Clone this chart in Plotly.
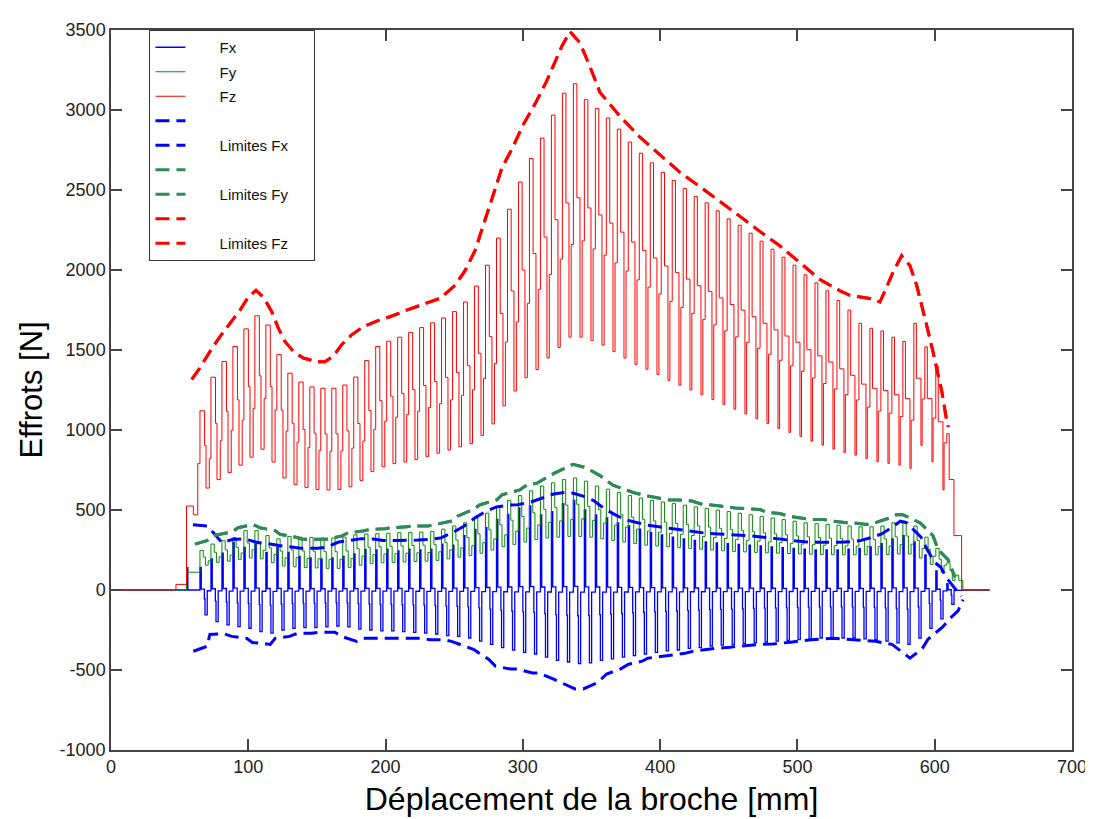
import plotly.graph_objects as go

# ---------------- data ----------------
# start (mm) of each tooth cycle
cycle_start = [64.8, 72.8, 80.8, 88.8, 96.8, 104.8, 112.8, 120.8, 128.8, 136.8,
               144.8, 152.8, 160.8, 168.8, 176.8, 184.8, 192.8, 200.8, 208.8, 216.8,
               224.8, 232.8, 240.8, 248.8, 256.8, 264.8, 272.8, 280.8, 288.8, 296.8,
               304.8, 312.8, 320.8, 328.8, 336.8, 344.8, 352.8, 360.8, 368.8, 376.8,
               384.8, 392.8, 400.8, 408.8, 416.8, 424.8, 432.8, 440.8, 448.8, 456.8,
               464.8, 472.8, 480.8, 488.8, 496.8, 504.8, 512.8, 520.8, 528.8, 536.8,
               544.8, 552.8, 560.8, 568.8, 576.8, 584.8, 592.8, 600.8, 608.8]

fz_peak = [1120, 1330, 1428, 1522, 1632, 1714, 1656, 1471, 1355, 1300, 1269, 1261, 1261, 1281, 1331, 1434, 1522, 1555, 1580,
           1610, 1640, 1670, 1700, 1740, 1800, 1900, 2030, 2200, 2380, 2550,
           2697, 2824, 2968, 3105, 3164, 3065,
           3010, 2950, 2880, 2800, 2730, 2670, 2610, 2560, 2510, 2460, 2420, 2370, 2320, 2280, 2230, 2180, 2130,
           2080, 2030, 1970, 1920, 1870, 1810, 1750, 1667, 1636, 1619, 1580, 1553, 1667, 1520, 1399, 977]
fz_trough = [637, 690, 735, 780, 830, 880, 800, 700, 660, 640, 628, 625, 628, 645, 685, 740, 770, 790, 800,
             815, 835, 855, 875, 895, 915, 966, 1038, 1151, 1244, 1327,
             1378, 1450, 1516, 1580, 1580, 1560,
             1530, 1490, 1450, 1410, 1380, 1347, 1310, 1280, 1250, 1220, 1190, 1160, 1130, 1100, 1070, 1040, 1010,
             985, 960, 930, 905, 880, 860, 843, 822, 801, 791, 781, 760, 904, 801, 626, 340]

fx_peak = [142, 194, 231, 297, 266, 287, 235, 266, 235, 210, 200, 195, 200, 210, 225, 253, 250, 255, 245,
           255, 250, 255, 287, 280, 340, 379, 390, 441, 472, 513,
           525, 470, 490, 540, 560, 500,
           470, 450, 420, 400, 380, 360, 345, 330, 320, 310, 300, 295, 290, 285, 280, 275, 270,
           265, 260, 255, 250, 250, 250, 255, 260, 270, 290, 320, 340, 300, 220, 120, 40]
fx_trough = [-156, -198, -218, -229, -239, -260, -270, -250, -240, -235, -235, -230, -225, -230, -245, -250, -255, -255, -260,
             -265, -270, -275, -285, -290, -300, -320, -340, -360, -375, -390,
             -400, -420, -440, -450, -460, -455,
             -440, -430, -420, -410, -400, -390, -380, -375, -365, -360, -350, -345, -340, -335, -330, -325, -320,
             -315, -310, -305, -300, -300, -300, -300, -305, -310, -320, -330, -340, -300, -240, -180, -90]

fy_peak = [247, 287, 308, 328, 371, 371, 340, 320, 335, 330, 328, 325, 325, 330, 345, 350, 352, 355, 358,
           360, 362, 365, 380, 400, 420, 450, 480, 520, 560, 590,
           620, 650, 670, 690, 700, 680,
           650, 630, 610, 590, 575, 560, 550, 540, 530, 520, 510, 500, 490, 480, 470, 460, 450,
           440, 430, 420, 415, 410, 405, 400, 395, 395, 400, 420, 430, 400, 330, 260, 170]
fy_trough = [155, 173, 180, 190, 200, 195, 170, 150, 145, 140, 138, 135, 135, 140, 155, 165, 170, 172, 175,
             178, 180, 185, 195, 205, 215, 230, 250, 270, 285, 300,
             315, 325, 330, 335, 335, 330,
             320, 310, 300, 290, 280, 275, 270, 265, 260, 255, 250, 245, 240, 238, 235, 232, 230,
             228, 226, 224, 222, 220, 220, 220, 220, 220, 222, 225, 225, 200, 160, 110, 60]

# entry / exit of the cut (step values)
fz_lead_x = [0, 47.3, 55.0, 60.0, 63.2]
fz_lead_y = [0, 35, 525, 470, 790]
fz_tail_x = [619.6, 640]
fz_tail_y = [0, 0]
fx_lead_x = [0, 55.3, 56.0]
fx_lead_y = [0, 140, 0]
fx_tail_x = [621.0, 640]
fx_tail_y = [0, 0]
fy_lead_x = [0, 55.1]
fy_lead_y = [0, 111]
fy_tail_x = [617.5, 620.5, 640]
fy_tail_y = [60, 0, 0]

# limit curves
limfz_x = [58.8, 64.8, 72.1, 79.4, 86.7, 94.0, 100.0, 105.6, 110.9, 117.1, 121.9, 126.7, 132.8, 140.1, 149.8,
           155.9, 161.9, 168.0, 175.3, 183.8, 193.5, 203.2, 215.4, 225.1, 239.6, 250.6, 257.9, 265.1, 272.4,
           279.7, 284.6, 292.8, 300.1, 308.8, 316.8, 320.5, 328.5, 334.3, 341.6, 348.9, 356.2, 370.8, 385.3,
           399.9, 414.5, 429.1, 443.7, 458.2, 472.8, 487.3, 501.9, 516.4, 531.0, 538.3, 552.8, 560.1, 565.0,
           569.6, 575.9, 582.0, 586.9, 590.5, 594.1, 598.7, 602.4, 605.1, 608.7, 609.9]
limfz_y = [1316, 1388, 1491, 1584, 1667, 1749, 1831, 1873, 1831, 1739, 1636, 1553, 1491, 1450, 1426,
           1426, 1461, 1533, 1595, 1646, 1681, 1708, 1749, 1780, 1823, 1904, 1996, 2120, 2305,
           2503, 2635, 2769, 2905, 3037, 3171, 3245, 3400, 3490, 3420, 3270, 3110, 2960, 2830,
           2720, 2610, 2520, 2430, 2335, 2240, 2150, 2045, 1940, 1870, 1842, 1822, 1800, 1893,
           1986, 2089, 2027, 1903, 1770, 1656, 1491, 1347, 1244, 1059, 1020]

limfx_up_x = [59.7, 70.0, 74.6, 80.8, 88.4, 97.0, 106.5, 114.5, 122.4, 130.9, 138.2, 150.3, 156.6, 165.8, 173.8,
              182.5, 190.8, 198.4, 208.1, 216.0, 223.6, 232.0, 240.0, 248.7, 257.3, 265.1, 272.7, 280.7, 289.5,
              296.1, 305.9, 314.2, 322.4, 330.8, 336.8, 344.4, 351.3, 359.1, 367.3, 375.0, 383.0, 391.1, 399.1,
              407.5, 415.0, 423.4, 431.5, 439.0, 447.4, 455.1, 463.4, 475.0, 485.7, 496.0, 505.4, 513.8, 522.6,
              530.2, 538.3, 546.5, 553.8, 561.4, 569.3, 575.0, 579.7, 585.0, 590.0, 594.5, 599.9, 604.5, 608.2,
              611.1, 615.5, 619.3]
limfx_up_y = [408, 400, 358, 297, 315, 320, 297, 290, 278, 270, 261, 261, 266, 300, 312,
              321, 318, 309, 309, 309, 312, 317, 325, 358, 400, 451, 490, 519, 530,
              533, 550, 575, 600, 610, 605, 585, 560, 510, 470, 439, 420, 404, 395,
              385, 375, 363, 357, 352, 348, 344, 340, 330, 320, 308, 301, 299, 297,
              299, 301, 310, 328, 350, 395, 430, 420, 377, 330, 253, 173, 142, 80,
              49, 0, -40]
limfx_lo_x = [60, 70, 72, 81.6, 88, 99, 103, 116, 119.5, 130, 136, 146, 152, 163, 168, 179, 183.6, 194.5, 199.6,
              210.5, 216, 226.5, 232, 243, 248, 259, 264, 275, 280, 291, 296, 307, 312, 322, 328, 338, 344, 354,
              361, 371, 377, 387, 391, 402, 409, 418, 424, 434, 440, 451, 456, 473, 482, 495, 510, 526, 542, 557,
              568.9, 579.9, 582, 591, 595, 606, 611, 617, 620.6]
limfx_lo_y = [-383, -352, -278, -272, -290, -303, -328, -340, -303, -290, -270, -270, -264, -264, -290, -321, -301,
              -301, -297, -297, -301, -301, -311, -311, -321, -352, -371, -433, -476, -494, -494, -519, -519, -556,
              -581, -618, -618, -581, -525, -494, -464, -445, -426, -414, -402, -396, -383, -371, -365, -358, -352,
              -340, -338, -326, -311, -301, -309, -321, -340, -414, -426, -365, -309, -229, -179, -130, -60]

limfy_x = [61.2, 69.9, 75.8, 88.1, 92.5, 103.4, 108.5, 119.5, 123.1, 130.4, 135.5, 139.1, 152.2, 157.3, 168.3,
           172.6, 183.6, 188.7, 199.6, 204.7, 215.6, 221.4, 230.9, 237.5, 248.4, 252.7, 263.7, 268.8, 281.2,
           284.8, 297.9, 301.6, 310.3, 323.0, 336.5, 346.0, 356.2, 365.6, 375.8, 381.7, 391.1, 397.7, 407.2,
           413.0, 423.2, 429.1, 438.5, 445.1, 454.5, 465.4, 472.7, 477.8, 487.3, 493.1, 503.3, 509.1, 518.6,
           525.2, 536.1, 540.4, 550.6, 557.9, 567.4, 572.5, 576.9, 582.0, 589.3, 598.7, 602.4, 609.7, 614.8]
limfy_y = [287, 308, 342, 363, 389, 410, 389, 371, 348, 338, 328, 317, 317, 317, 338,
           358, 369, 379, 383, 389, 396, 400, 400, 410, 431, 463, 503, 533, 564,
           595, 626, 649, 668, 730, 785, 765, 715, 655, 625, 606, 587, 575, 562,
           562, 556, 539, 527, 523, 513, 508, 503, 486, 478, 462, 451, 441, 441,
           431, 420, 420, 410, 424, 451, 472, 470, 451, 420, 340, 253, 190, 80]

x_ticks = [0, 100, 200, 300, 400, 500, 600, 700]
y_ticks = [-1000, -500, 0, 500, 1000, 1500, 2000, 2500, 3000, 3500]
legend_names = ['Fx', 'Fy', 'Fz', '', 'Limites Fx', '', 'Limites Fy', '', 'Limites Fz']


# ---------------- waveform construction (step signal per tooth) ----------------
def cycle_width(k):
    if k < len(cycle_start) - 1:
        return cycle_start[k + 1] - cycle_start[k]
    return cycle_start[k] - cycle_start[k - 1]


def build_fz():
    xs, ys = list(fz_lead_x), list(fz_lead_y)
    n = len(cycle_start)
    for k in range(n):
        x0, w = cycle_start[k], cycle_width(k)
        P, T = fz_peak[k], fz_trough[k]
        s = k / (n - 1)
        a = 0.42 + (0.22 - 0.42) * s
        b = 0.55 + (0.65 - 0.55) * s
        c = 0.85 + (0.75 - 0.85) * s
        xs += [x0, x0 + a * w, x0 + b * w]
        ys += [P, T + 0.55 * (P - T), T]
        if k < n - 1:
            xs.append(x0 + c * w)
            ys.append(T + 0.38 * (P - T))
    xs += fz_tail_x
    ys += fz_tail_y
    return xs, ys


def build_fy():
    xs, ys = list(fy_lead_x), list(fy_lead_y)
    for k in range(len(cycle_start)):
        x0, w = cycle_start[k], cycle_width(k)
        P, T = fy_peak[k], fy_trough[k]
        xs += [x0, x0 + 0.30 * w, x0 + 0.50 * w, x0 + 0.75 * w]
        ys += [P, T + 0.55 * (P - T), T, T + 0.30 * (P - T)]
    xs += fy_tail_x
    ys += fy_tail_y
    return xs, ys


def build_fx():
    xs, ys = list(fx_lead_x), list(fx_lead_y)
    for k in range(len(cycle_start)):
        x0, w = cycle_start[k], cycle_width(k)
        P, T = fx_peak[k], fx_trough[k]
        xs += [x0, x0 + 0.12 * w, x0 + 0.40 * w, x0 + 0.46 * w, x0 + 0.66 * w]
        ys += [P, 0.04 * P, 0.35 * T, T, 0.03 * T]
    xs += fx_tail_x
    ys += fx_tail_y
    return xs, ys


fx_x, fx_y = build_fx()
fy_x, fy_y = build_fy()
fz_x, fz_y = build_fz()

BLUE = '#0000ff'
GREEN = '#0a8a0a'
RED = '#ff0000'
LGREEN = '#2e8b57'
DASH = '14px,7px'
PAD = '\u00a0' * 7   # shifts legend text right like the original legend layout


def lname(i):
    return PAD + legend_names[i] + '\u00a0' * 5


series = [
    (fx_x, fx_y, BLUE, 1.3, 'solid', 'hv'),
    (fy_x, fy_y, GREEN, 1, 'solid', 'hv'),
    (fz_x, fz_y, RED, 1, 'solid', 'hv'),
    (limfx_up_x, limfx_up_y, BLUE, 3, DASH, 'linear'),
    (limfx_lo_x, limfx_lo_y, BLUE, 3, DASH, 'linear'),
    (limfy_x, limfy_y, LGREEN, 3, DASH, 'linear'),
    (limfy_x, limfy_y, LGREEN, 3, DASH, 'linear'),
    (limfz_x, limfz_y, RED, 3, DASH, 'linear'),
    (limfz_x, limfz_y, RED, 3, DASH, 'linear'),
]

fig = go.Figure()
for i, (sx, sy, col, lw, dash, shape) in enumerate(series):
    fig.add_trace(go.Scatter(x=sx, y=sy, mode='lines',
                             line=dict(color=col, width=lw, dash=dash, shape=shape),
                             name=lname(i), legendgroup=f'g{i}'))

axis_common = dict(showline=True, linecolor='#444444', linewidth=1.5, mirror='ticks',
                   ticks='inside', ticklen=11, tickwidth=1.5, tickcolor='#444444',
                   showgrid=False, zeroline=False,
                   tickfont=dict(size=18, color='#222222', family='Liberation Sans, Arial, sans-serif'))

fig.update_layout(
    width=1093, height=819,
    margin=dict(l=103, r=29, t=14, b=77),
    paper_bgcolor='white', plot_bgcolor='white',
    font=dict(family='Liberation Sans, Arial, sans-serif', color='#111111'),
    showlegend=True,
    legend=dict(x=0.04, y=1.0, xanchor='left', yanchor='top', bgcolor='white',
                bordercolor='#333333', borderwidth=1, font=dict(size=15, color='#111111'),
                tracegroupgap=2, traceorder='grouped'),
    xaxis=dict(range=[0, 700], tickvals=x_ticks, ticktext=[str(v) for v in x_ticks],
               title=dict(text='Déplacement de la broche [mm]', font=dict(size=32, color='#000000'), standoff=11),
               **axis_common),
    yaxis=dict(range=[-1000, 3500], tickvals=y_ticks, ticktext=[str(v) for v in y_ticks],
               title=dict(text='Effrots [N]', font=dict(size=31, color='#000000'), standoff=8),
               **axis_common),
)

fig.write_html('out.html')
